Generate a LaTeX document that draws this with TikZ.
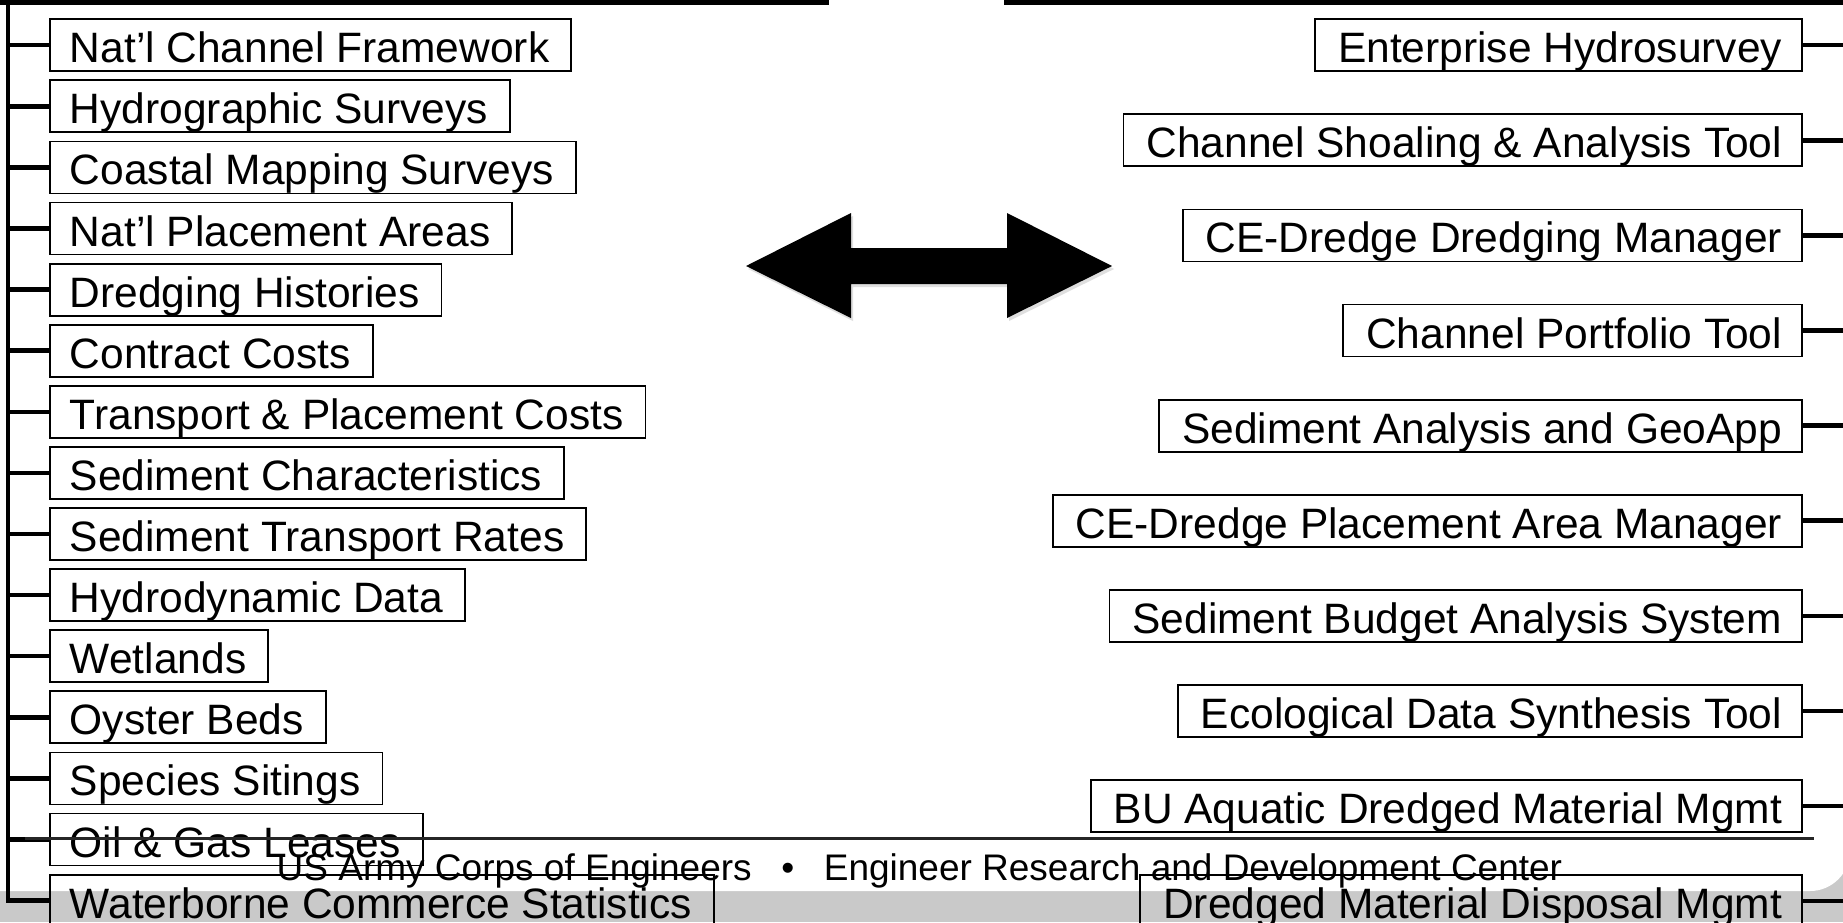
\documentclass[tikz,border=0pt]{standalone}
\usepackage{fontspec}
\setmainfont{Liberation Sans}
\usetikzlibrary{positioning,shadows}

\begin{document}
\begin{tikzpicture}[
        x=1pt, y=-1pt,
        box/.style={draw=black, line width=1.8pt, inner xsep=20pt, inner ysep=0pt,
            minimum height=52pt, text height=40pt, text depth=5pt,
            font=\fontsize{42.5}{42.5}\selectfont},
        lbox/.style={box, anchor=north west},
        rbox/.style={box, anchor=north east},
        stub/.style={black, line width=4.5pt},
        spine/.style={black, line width=4.5pt, line join=miter},
        rule/.style={black, line width=5pt},
        footrule/.style={black!85, line width=3pt},
        band/.style={fill=black!21},
    ]
    \useasboundingbox (0,0) rectangle (1843,922);
    % slide background
    \fill[band] (0,0) rectangle (1843,922);
    \fill[white, rounded corners=40pt] (-60,-60) rectangle (1850,891);
    % top rules
    \draw[rule] (0,2.5) -- (829,2.5);
    \draw[rule] (1004,2.5) -- (1843,2.5);
    \coordinate (spinetop) at (8,0);
    \coordinate (rightedge) at (1843,0);
    % data sources
    \foreach \txt [count=\i from 0] in {Nat’l Channel Framework, Hydrographic Surveys,
        Coastal Mapping Surveys, Nat’l Placement Areas, Dredging Histories,
        Contract Costs, Transport \& Placement Costs, Sediment Characteristics,
        Sediment Transport Rates, Hydrodynamic Data, Wetlands, Oyster Beds,
        Species Sitings, Oil \& Gas Leases, Waterborne Commerce Statistics}
    {
        \node[lbox] (l\i) at (49,18.3+61.1*\i) {\txt\hspace*{2pt}};
        \draw[stub] (l\i.west) -- (l\i.west -| spinetop);
    }
    \draw[spine] (spinetop) |- (l14.west);
    % tools
    \foreach \txt [count=\i from 0] in {Enterprise Hydrosurvey,
        Channel Shoaling \& Analysis Tool, CE-Dredge Dredging Manager,
        Channel Portfolio Tool, Sediment Analysis and GeoApp,
        CE-Dredge Placement Area Manager, Sediment Budget Analysis System,
        Ecological Data Synthesis Tool, BU Aquatic Dredged Material Mgmt,
        Dredged Material Disposal Mgmt}
    {
        \node[rbox] (r\i) at (1803,18.3+95.1*\i) {\hspace*{3pt}\txt};
        \draw[stub] (r\i.east) -- (r\i.east -| rightedge);
    }
    % double arrow
    \fill[black, drop shadow={opacity=0.25, shadow xshift=2pt, shadow yshift=-3pt}]
        (746,266) -- (851,213) -- (851,248) -- (1007,248) -- (1007,213) --
        (1112,266) -- (1007,318) -- (1007,284) -- (851,284) -- (851,318) -- cycle;
    % footer
    \draw[footrule] (25,838.5) -- (1814,838.5);
    \node[anchor=base, inner sep=0pt, font=\fontsize{37}{37}\selectfont] (footer)
        at (919.5,880) {US Army Corps of Engineers\hspace{0.8em}\textbullet\hspace{0.8em}Engineer Research and Development Center};
\end{tikzpicture}
\end{document}
